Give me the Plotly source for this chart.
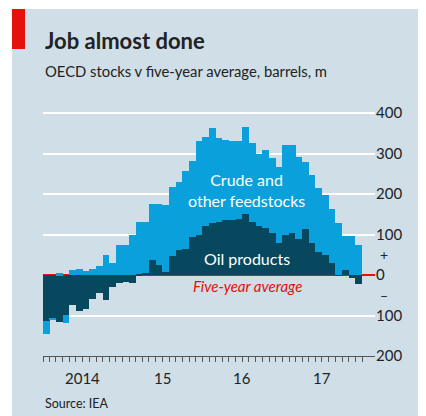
import pandas as pd
import plotly.graph_objects as go

# monthly, Jan 2014 - Dec 2017, barrels m vs five-year average
months = pd.date_range("2014-01-01", "2017-12-01", freq="MS")

oil_products = [
    -114, -107, -115, -99, -74, -89, -83, -58, -45, -62, -29, -19,
    -16, -19, 2, 6, 37, 26, 8, 46, 63, 64, 93, 100,
    122, 128, 132, 135, 136, 138, 152, 132, 120, 116, 103, 78,
    100, 104, 90, 114, 80, 58, 50, 29, 1, 12, -8, -23,
]

crude = [
    -31, -4, 4, -19, 12, 15, 11, 15, 23, 49, 29, 74,
    74, 99, 130, 126, 138, 149, 165, 171, 168, 192, 188, 230,
    218, 234, 206, 198, 194, 192, 214, 194, 178, 193, 186, 190,
    220, 216, 202, 166, 168, 157, 148, 133, 127, 85, 97, 74,
]

y_ticks = [400, 300, 200, 100, 0, -100, -200]
y_labels = ["400", "300", "200", "100", "0", "100", "200"]
year_starts = ["2014-01-01", "2015-01-01", "2016-01-01", "2017-01-01", "2018-01-01"]
year_mids = ["2014-07-01", "2015-07-01", "2016-07-01", "2017-07-01"]
year_labels = ["2014", "15", "16", "17"]

BG = "#cfdee7"
LIGHT = "#0aa0dc"
DARK = "#07485f"
RED = "#e3120b"
FONT = "Lato"

month_ms = 1000 * 3600 * 24 * 30.6

fig = go.Figure()
fig.add_trace(go.Bar(
    x=months, y=oil_products, name="Oil products",
    marker_color=DARK, marker_line_width=0,
    xperiod="M1", xperiodalignment="middle", width=month_ms,
))
fig.add_trace(go.Bar(
    x=months, y=crude, name="Crude and other feedstocks",
    marker_color=LIGHT, marker_line_width=0,
    xperiod="M1", xperiodalignment="middle", width=month_ms,
))

# page body has an 8px margin, so the figure sits 8px right/down
fig.update_layout(
    width=426, height=416,
    margin=dict(l=35, r=59, t=97, b=68),
    paper_bgcolor=BG, plot_bgcolor=BG,
    barmode="relative", bargap=0,
    showlegend=False,
    font=dict(family=FONT, color="#222222"),
)

fig.update_xaxes(
    range=["2014-01-01", "2018-03-01"],
    showgrid=False, zeroline=False,
    showline=True, linecolor="#555555", linewidth=1,
    tickvals=year_starts, ticktext=[""] * 5,
    ticks="outside", ticklen=9, tickwidth=1, tickcolor="#555555",
    minor=dict(
        tickvals=list(months) + [pd.Timestamp("2018-01-01")],
        ticks="outside", ticklen=5, tickwidth=1, tickcolor="#555555",
    ),
)

fig.update_yaxes(
    range=[-200, 420], side="right",
    tickvals=y_ticks, ticktext=y_labels,
    showgrid=True, gridcolor="white", gridwidth=2.2,
    zeroline=True, zerolinecolor=RED, zerolinewidth=1.5,
    ticks="", tickfont=dict(size=15, color="#222222"),
)

# panel background edges (white strip on left and top) and red flag
fig.add_shape(type="rect", xref="paper", yref="paper",
              x0=-0.2, x1=-0.0934, y0=-0.4, y1=1.5,
              fillcolor="white", line_width=0, layer="below")
fig.add_shape(type="rect", xref="paper", yref="paper",
              x0=-0.2, x1=1.3, y0=1.3825, y1=1.5,
              fillcolor="white", line_width=0, layer="below")
fig.add_shape(type="rect", xref="paper", yref="paper",
              x0=-0.0934, x1=-0.0542, y0=1.2231, y1=1.3825,
              fillcolor=RED, line_width=0)

fig.add_annotation(text="<b>Job almost done</b>", xref="paper", yref="paper",
                   x=0, y=1.2550, xanchor="left", yanchor="middle",
                   showarrow=False, font=dict(size=22, color="#222222"))
fig.add_annotation(text="OECD stocks v five-year average, barrels, m",
                   xref="paper", yref="paper", x=0, y=1.1355,
                   xanchor="left", yanchor="middle", showarrow=False,
                   font=dict(size=14.8, color="#222222"))
fig.add_annotation(text="Source: IEA", xref="paper", yref="paper",
                   x=0, y=-0.191, xanchor="left", yanchor="middle",
                   showarrow=False, font=dict(size=12.5, color="#222222"))

for xm, lab in zip(year_mids, year_labels):
    fig.add_annotation(text=lab, x=xm, xref="x", yref="paper", y=-0.087,
                       yanchor="middle", showarrow=False,
                       font=dict(size=15, color="#222222"))

fig.add_annotation(text="+", xref="paper", x=1.0, xanchor="left", xshift=3,
                   y=50, yref="y", showarrow=False,
                   font=dict(size=14, color="#222222"))
fig.add_annotation(text="–", xref="paper", x=1.0, xanchor="left", xshift=3,
                   y=-50, yref="y", showarrow=False,
                   font=dict(size=14, color="#222222"))

fig.add_annotation(text="Crude and<br>other feedstocks", x="2016-07-20", y=210,
                   showarrow=False, font=dict(size=16, color="white"))
fig.add_annotation(text="Oil products", x="2016-07-25", y=40,
                   showarrow=False, font=dict(size=16, color="white"))
fig.add_annotation(text="<i>Five-year average</i>", x="2016-07-25", y=-27,
                   showarrow=False, font=dict(size=15, color=RED))

fig.write_html("out.html")
